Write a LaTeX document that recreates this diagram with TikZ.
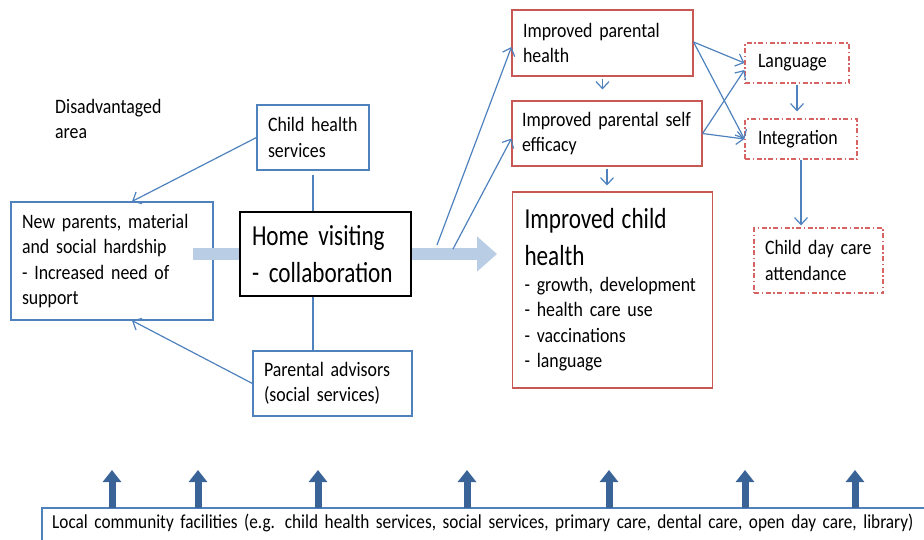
\documentclass[tikz,border=0pt]{standalone}
\usepackage{fontspec}
\setmainfont{Carlito}[FakeStretch=0.87]
\newfontfamily\bigfont{Carlito}[FakeStretch=0.8]
\usetikzlibrary{arrows.meta}

\definecolor{lineblue}{RGB}{79,129,189}
\definecolor{barblue}{RGB}{185,205,229}
\definecolor{darkblue}{RGB}{58,100,152}
\definecolor{boxred}{RGB}{200,88,84}
\definecolor{dashred}{RGB}{214,100,100}

\newcommand{\smallfs}{\fontsize{20.5}{25.5}\selectfont}
\newcommand{\bigfs}{\bigfont\fontsize{29}{37}\selectfont}

\begin{document}
\begin{tikzpicture}[
    x=1pt, y=-1pt,
    box/.style={fill=white, line width=1.1pt, align=left, inner xsep=11pt,
        inner ysep=0pt, font=\smallfs},
    bluebox/.style={box, draw=lineblue},
    redbox/.style={box, draw=boxred},
    % outcome boxes drawn dash-dotted
    dotbox/.style={box, draw=dashred, line width=1.2pt,
        dash pattern=on 5pt off 2.5pt on 1.5pt off 2.5pt},
    arr/.style={draw=lineblue, line width=1.2pt,
        -{Straight Barb[length=7pt,width=13pt,line width=1.2pt]}},
    link/.style={draw=lineblue, line width=1.1pt},
    bar/.style={draw=barblue, line width=12pt,
        -{Triangle[length=20pt,width=34pt]}},
    uparrow/.style={draw=darkblue, line width=7pt,
        -{Triangle[length=12pt,width=18pt]}},
    ]

    \useasboundingbox (0,0) rectangle (924,539);

    % Left side
    \node[font=\smallfs, align=left, anchor=north west, inner sep=0pt]
        (area) at (55,99) {Disadvantaged\\area};
    \node[bluebox, minimum width=202, minimum height=118, text width=180]
        (np) at (112,261) {New parents, material\\and social hardship\\- Increased need of\\support};
    \node[bluebox, minimum width=112, minimum height=65, text width=90]
        (chs) at (313,137.5) {Child health\\services};
    \node[bluebox, minimum width=159, minimum height=65, text width=137]
        (pa) at (332.5,383.5) {Parental advisors\\(social services)};

    % Thick arrow behind the home visiting box
    \coordinate (barS) at (193,254);
    \coordinate (barE) at (497,254);
    \draw[bar] (barS) -- (barE);

    \node[box, draw=black, font=\bigfs, inner xsep=12pt,
        minimum width=171, minimum height=84, text width=147]
        (hv) at (325.5,254) {Home visiting\\- collaboration};

    \draw[link, shorten <=4pt] (chs.south) -- (chs.south |- hv.north);
    \draw[link] (hv.south -| chs.south) -- (pa.north -| chs.south);
    \draw[arr] (chs.west) -- ([xshift=20pt]np.north);
    \draw[arr] (pa.west) -- ([xshift=20pt]np.south);

    % Right side
    \node[redbox, minimum width=181, minimum height=66, text width=159]
        (ph) at (602.5,43) {Improved parental\\health};
    \node[redbox, minimum width=190, minimum height=65, text width=170,
        inner xsep=10pt]
        (se) at (607,133.5) {Improved parental self\\efficacy};
    \node[redbox, minimum width=200, minimum height=196, text width=176,
        inner xsep=12pt]
        (ich) at (612.5,290) {{\bigfs Improved child\\health\par}
        - growth, development\\- health care use\\- vaccinations\\- language};
    \node[dotbox, inner xsep=13pt, minimum width=104, minimum height=40,
        text width=78]
        (lang) at (797,63) {Language};
    \node[dotbox, inner xsep=13pt, minimum width=112, minimum height=40,
        text width=86]
        (integ) at (801,139) {Integration};
    \node[dotbox, minimum width=129, minimum height=65, text width=107]
        (cdc) at (818.5,260.5) {Child day care\\attendance};

    \coordinate (b1) at (437,245);
    \coordinate (b2) at (453,249);
    \draw[arr] (b1) -- ([yshift=-4pt]ph.west);
    \draw[arr] (b2) -- ([yshift=-5pt]se.west);
    \draw[arr, shorten <=2pt, shorten >=11pt] (ph.south) -- (se.north -| ph.south);
    \draw[arr, shorten <=2pt, shorten >=6pt] (se.south) -- (ich.north -| se.south);
    \draw[arr] ([yshift=1pt]ph.east) -- (lang.west);
    \draw[arr] ([yshift=1pt]ph.east) -- (integ.west);
    \draw[arr] (se.east) -- ([yshift=-7pt]lang.west);
    \draw[arr] (se.east) -- (integ.west);
    \draw[arr, shorten <=1pt, shorten >=7pt] (lang.south) -- (integ.north -| lang.south);
    \draw[arr, shorten >=2pt] (integ.south) -- (cdc.north -| integ.south);

    % Bottom strip
    \node[font=\fontsize{19.8}{24}\selectfont, anchor=north west,
        minimum width=900, minimum height=30, align=left, text width=880,
        inner xsep=10pt, inner ysep=0pt]
        (lcf) at (42,508) {Local community facilities (e.g. child health services, social services, primary care, dental care, open day care, library)};
    \draw[link] ([yshift=-20pt]lcf.south west) |- (lcf.north east);

    \foreach \xx [count=\i] in {112,198,318,467,609,745,855} {
        \coordinate (up\i) at (\xx,470);
        \draw[uparrow] (lcf.north -| up\i) -- (up\i);
    }
\end{tikzpicture}
\end{document}
